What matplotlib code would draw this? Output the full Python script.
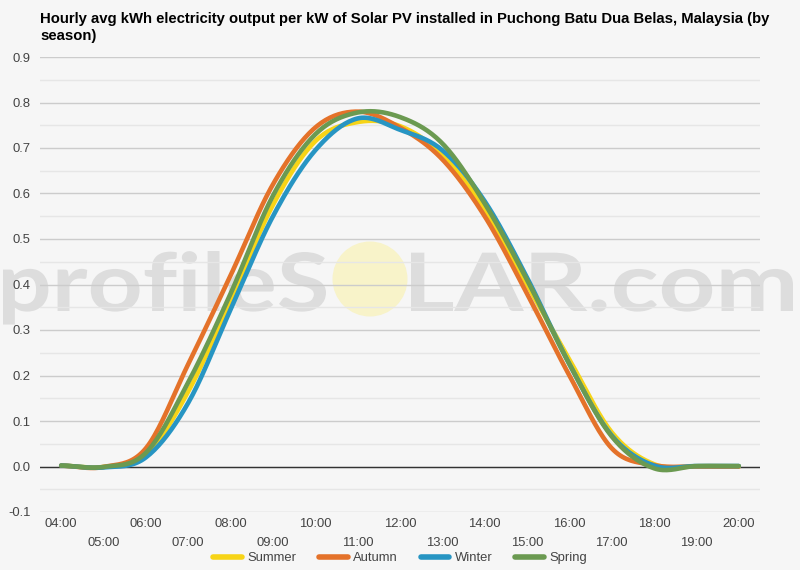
import numpy as np
import matplotlib
matplotlib.use("Agg")
import matplotlib.pyplot as plt
from matplotlib.textpath import TextPath
from matplotlib.patches import PathPatch, Circle
from matplotlib.transforms import Affine2D, IdentityTransform
from matplotlib.font_manager import FontProperties

hours = ["04:00", "05:00", "06:00", "07:00", "08:00", "09:00", "10:00", "11:00",
         "12:00", "13:00", "14:00", "15:00", "16:00", "17:00", "18:00", "19:00", "20:00"]

summer = [0.002, -0.001, 0.025, 0.165, 0.365, 0.575, 0.715, 0.757, 0.748, 0.685,
          0.565, 0.40, 0.235, 0.075, 0.005, 0.0, 0.0]
autumn = [0.002, -0.001, 0.04, 0.225, 0.42, 0.62, 0.745, 0.78, 0.745, 0.675,
          0.55, 0.38, 0.2, 0.04, 0.003, 0.0, 0.0]
winter = [0.002, -0.002, 0.02, 0.14, 0.345, 0.55, 0.695, 0.765, 0.74, 0.695,
          0.583, 0.415, 0.225, 0.068, 0.002, 0.001, 0.001]
spring = [0.002, -0.001, 0.03, 0.185, 0.38, 0.595, 0.73, 0.778, 0.768, 0.71,
          0.578, 0.41, 0.225, 0.066, -0.004, 0.001, 0.001]

series = [("Summer", summer, "#f7d417"),
          ("Autumn", autumn, "#e4722a"),
          ("Winter", winter, "#2795c3"),
          ("Spring", spring, "#6b9a51")]

title = ("Hourly avg kWh electricity output per kW of Solar PV installed in "
         "Puchong Batu Dua Belas, Malaysia (by\nseason)")


def smooth(y, n=20):
    # catmull-rom through the hourly points, like the "function" curve type
    y = np.asarray(y, float)
    p = np.concatenate([[y[0]], y, [y[-1]]])
    xs, ys = [], []
    t = np.linspace(0, 1, n, endpoint=False)
    for i in range(len(y) - 1):
        p0, p1, p2, p3 = p[i], p[i + 1], p[i + 2], p[i + 3]
        seg = 0.5 * ((2 * p1) + (-p0 + p2) * t + (2 * p0 - 5 * p1 + 4 * p2 - p3) * t ** 2
                     + (-p0 + 3 * p1 - 3 * p2 + p3) * t ** 3)
        xs.append(i + t)
        ys.append(seg)
    xs.append([len(y) - 1])
    ys.append([y[-1]])
    return np.concatenate(xs), np.concatenate(ys)


W, H = 800, 570
fig = plt.figure(figsize=(8, 5.7), dpi=100, facecolor="#f6f6f6")
ax = fig.add_axes([40 / W, (H - 512) / H, 720 / W, 455 / H])
ax.set_facecolor("#f6f6f6")

# watermark
def stamp(s, x0, x1, top, base, color):
    prop = FontProperties(family="Lato", weight="bold")
    tp = TextPath((0, 0), s, size=100, prop=prop)
    ref = TextPath((0, 0), "S", size=100, prop=prop).get_extents()
    ext = tp.get_extents()
    sx = (x1 - x0) / ext.width
    sy = (base - top) / ref.y1
    tr = Affine2D().translate(-ext.x0, 0).scale(sx, sy).translate(x0, H - base)
    patch = PathPatch(tr.transform_path(tp), facecolor=color, edgecolor="none",
                      transform=IdentityTransform(), zorder=0.1, clip_on=False)
    ax.add_artist(patch)

stamp("profileS", 3, 326, 252, 311, "#dddddd")
stamp("LAR.com", 411, 793, 252, 311, "#dddddd")
ax.add_artist(Circle((370, H - 279), 37.5, facecolor="#f8f3c9", edgecolor="none",
                     transform=IdentityTransform(), zorder=0.1, clip_on=False))

x = np.arange(len(hours))
for name, vals, col in series:
    sx, sy = smooth(vals)
    ax.plot(sx, sy, color=col, lw=3.3, label=name, zorder=3, solid_capstyle="round")

ax.set_xlim(-0.5, len(hours) - 0.5)
ax.set_ylim(-0.1, 0.9)
ax.set_yticks(np.arange(-0.1, 0.91, 0.1))
ax.set_yticklabels(["%.1f" % v for v in np.arange(-0.1, 0.91, 0.1)])
ax.set_yticks(np.arange(-0.05, 0.9, 0.1), minor=True)
ax.grid(True, which="major", axis="y", color="#cccccc", lw=1, zorder=0.5)
ax.grid(True, which="minor", axis="y", color="#e6e6e6", lw=1, zorder=0.5)
ax.axhline(0, color="#333333", lw=1, zorder=2)
ax.set_axisbelow(True)

ax.set_xticks(x[::2])
ax.set_xticklabels(hours[::2])
ax.set_xticks(x[1::2], minor=True)
ax.set_xticklabels(hours[1::2], minor=True)
ax.tick_params(axis="x", which="major", length=0, pad=4, labelsize=9.4, labelcolor="#444444")
ax.tick_params(axis="x", which="minor", length=0, pad=18, labelsize=9.4, labelcolor="#444444")
ax.tick_params(axis="y", which="both", length=0, pad=7, labelsize=9.4, labelcolor="#444444")
for lab in ax.get_xticklabels(which="both") + ax.get_yticklabels():
    lab.set_fontfamily("Liberation Sans")

for s in ax.spines.values():
    s.set_visible(False)

fig.text(40 / W, 1 - 12 / H, title, ha="left", va="top", fontsize=10.7,
         fontweight="bold", family="Liberation Sans", linespacing=1.28)

leg = fig.legend(loc="center", bbox_to_anchor=(400 / W, 1 - 558 / H), ncol=4,
                 frameon=False, handlelength=2.2, handletextpad=0.4,
                 columnspacing=1.75, prop=FontProperties(family="Liberation Sans", size=9.4))
for t in leg.get_texts():
    t.set_color("#444444")
for h in leg.get_lines():
    h.set_linewidth(4)

fig.savefig("out.png", dpi=100, facecolor=fig.get_facecolor())
